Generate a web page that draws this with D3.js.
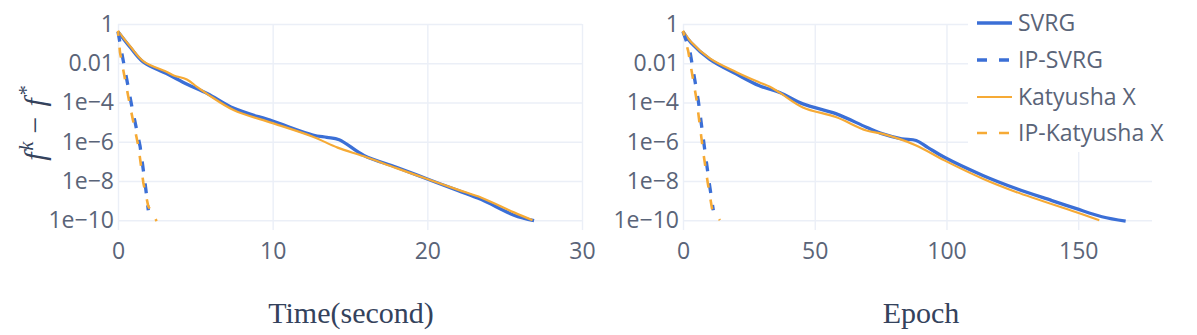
<!DOCTYPE html>
<html>
<head>
<meta charset="utf-8">
<script src="https://cdn.jsdelivr.net/npm/d3@7"></script>
<style>
  body { margin: 0; background: #fff; }
  svg { display: block; }
</style>
</head>
<body>
<svg id="chart" width="1197" height="335"></svg>
<script>
'use strict';

// ---- data ----
var seriesNames = ["SVRG", "IP-SVRG", "Katyusha X", "IP-Katyusha X"];

// left panel: time in seconds
var timeSvrgX = [0, 0.8, 1.65, 3.2, 4.5, 5.8, 7.5, 10, 12.6, 13.5, 14.3, 15.9, 18, 20, 22, 23.5, 25.6, 26.9];
var timeSvrgY = [0.40, 0.063, 0.0112, 0.0028, 8.3e-4, 2.8e-4, 5.0e-5, 1.12e-5, 2.2e-6, 1.66e-6, 1.26e-6, 2.0e-7, 5.0e-8, 1.26e-8, 3.2e-9, 1.12e-9, 1.8e-10, 9.5e-11];
var timeIpSvrgX = [0, 0.24, 0.89, 1.43, 1.75, 1.96];
var timeIpSvrgY = [0.40, 0.035, 6.5e-5, 5.8e-7, 7.9e-9, 3.2e-10];
var timeKatX = [0, 0.8, 1.65, 3.2, 3.6, 4.45, 5.1, 5.8, 7.5, 10, 12.6, 14.2, 15.9, 18, 20, 22, 23.5, 25.6, 26.8];
var timeKatY = [0.45, 0.071, 0.0126, 0.0035, 0.0024, 0.0015, 6.3e-4, 2.6e-4, 4.0e-5, 8.9e-6, 1.8e-6, 5.0e-7, 1.8e-7, 4.5e-8, 1.26e-8, 3.5e-9, 1.4e-9, 2.5e-10, 1.0e-10];
var timeIpKatX = [0, 0.13, 0.78, 1.32, 1.64, 1.96, 2.5];
var timeIpKatY = [0.45, 0.035, 6.5e-5, 5.8e-7, 7.9e-9, 5.0e-10, 8.9e-11];

// right panel: epochs
var epochSvrgX = [0, 3, 10.2, 20.3, 29, 36.7, 45.5, 58, 69.6, 75.8, 83, 88.5, 93, 99.2, 113.8, 126.4, 140, 149, 159, 168];
var epochSvrgY = [0.40, 0.112, 0.0158, 0.0028, 7.1e-4, 3.2e-4, 8.5e-5, 2.7e-5, 5.5e-6, 2.5e-6, 1.4e-6, 1.15e-6, 5.0e-7, 1.6e-7, 1.9e-8, 4.1e-9, 1.0e-9, 4.0e-10, 1.5e-10, 8.9e-11];
var epochIpSvrgX = [0, 2.6, 5.8, 8.3, 10, 11.5];
var epochIpSvrgY = [0.40, 0.043, 1.26e-4, 3.5e-7, 7.2e-9, 3.2e-10];
var epochKatX = [0, 3, 10.2, 20.3, 29, 33, 36.7, 45.5, 58, 69.6, 75.8, 88.5, 99.2, 113.8, 126.4, 149, 158];
var epochKatY = [0.45, 0.126, 0.0178, 0.0035, 1.05e-3, 6.3e-4, 3.2e-4, 5.6e-5, 1.8e-5, 3.7e-6, 2.5e-6, 6.5e-7, 1.12e-7, 1.3e-8, 2.75e-9, 2.6e-10, 1.0e-10];
var epochIpKatX = [0, 2, 5.2, 7.6, 9.4, 11, 14];
var epochIpKatY = [0.45, 0.04, 1.26e-4, 3.5e-7, 7.9e-9, 4.0e-10, 1.0e-10];

var timeTicks = [0, 10, 20, 30];
var epochTicks = [0, 50, 100, 150];
var yTickValues = [1, 1e-2, 1e-4, 1e-6, 1e-8, 1e-10];
var yTickLabels = ["1", "0.01", "1e\u22124", "1e\u22126", "1e\u22128", "1e\u221210"];

// ---- styling ----
var BLUE = "#3b6fd6", ORANGE = "#f6aa35";
var GRID = "#ebeff7", TEXT = "#5a6478", TITLE = "#34425c";
var styles = [
  {color: BLUE, width: 3.3, dash: null, offset: 0},
  {color: BLUE, width: 3.3, dash: "10,12", offset: 0},
  {color: ORANGE, width: 2.2, dash: null, offset: 0},
  {color: ORANGE, width: 2.6, dash: "10,12", offset: 5}
];

var svg = d3.select("#chart");
var plotTop = 24, plotBottom = 230;

var y = d3.scaleLog().domain([Math.pow(10, -10.5), 1]).range([plotBottom, plotTop]);

function zip(xs, ys) {
  return xs.map(function (d, i) { return {x: d, y: ys[i]}; });
}

function drawPanel(left, right, xDomain, xTicks, series, title, titleX) {
  var x = d3.scaleLinear().domain(xDomain).range([left, right]);
  var g = svg.append("g");

  // grid
  g.append("g")
    .attr("transform", "translate(0," + plotBottom + ")")
    .call(d3.axisBottom(x).tickValues(xTicks).tickSize(-(plotBottom - plotTop)).tickFormat(""))
    .call(function (a) {
      a.select(".domain").remove();
      a.selectAll("line").attr("stroke", GRID).attr("stroke-width", 1.4);
    });
  g.append("g")
    .attr("transform", "translate(" + left + ",0)")
    .call(d3.axisLeft(y).tickValues(yTickValues).tickSize(-(right - left)).tickFormat(""))
    .call(function (a) {
      a.select(".domain").remove();
      a.selectAll("line").attr("stroke", GRID).attr("stroke-width", 1.4);
    });

  // tick labels
  g.append("g")
    .attr("transform", "translate(0," + plotBottom + ")")
    .call(d3.axisBottom(x).tickValues(xTicks).tickSize(0).tickPadding(13))
    .call(function (a) {
      a.select(".domain").remove();
      a.selectAll("text").attr("fill", TEXT).style("font", "23px 'Open Sans'");
    });
  g.append("g")
    .attr("transform", "translate(" + left + ",0)")
    .call(d3.axisLeft(y).tickValues(yTickValues).tickSize(0).tickPadding(4)
      .tickFormat(function (d, i) { return yTickLabels[i]; }))
    .call(function (a) {
      a.select(".domain").remove();
      a.selectAll("text").attr("fill", TEXT).style("font", "23px 'Open Sans'");
    });

  // solid first, dashed on top
  var order = [0, 2, 1, 3];
  order.forEach(function (k) {
    var s = styles[k];
    g.append("path")
      .datum(series[k])
      .attr("fill", "none")
      .attr("stroke", s.color)
      .attr("stroke-width", s.width)
      .attr("stroke-dasharray", s.dash)
      .attr("stroke-dashoffset", s.offset)
      .attr("stroke-linejoin", "round")
      .attr("d", d3.line()
        .x(function (d) { return x(d.x); })
        .y(function (d) { return y(d.y); })
        .curve(k % 2 ? d3.curveLinear : d3.curveCatmullRom.alpha(0.5)));
  });

  g.append("text")
    .attr("x", titleX)
    .attr("y", 323)
    .attr("text-anchor", "middle")
    .attr("fill", TITLE)
    .style("font", "30px 'Liberation Serif'")
    .text(title);
}

drawPanel(118, 582, [0, 30], timeTicks, [
  zip(timeSvrgX, timeSvrgY),
  zip(timeIpSvrgX, timeIpSvrgY),
  zip(timeKatX, timeKatY),
  zip(timeIpKatX, timeIpKatY)
], "Time(second)", 351);

drawPanel(683, 1152, [0, 178], epochTicks, [
  zip(epochSvrgX, epochSvrgY),
  zip(epochIpSvrgX, epochIpSvrgY),
  zip(epochKatX, epochKatY),
  zip(epochIpKatX, epochIpKatY)
], "Epoch", 921);

// y axis title  f^k - f^*
var yt = svg.append("text")
  .attr("transform", "translate(45,123) rotate(-90)")
  .attr("text-anchor", "middle")
  .attr("fill", TITLE)
  .style("font", "italic 30px 'Liberation Serif'");
yt.append("tspan").text("f");
yt.append("tspan").attr("dx", 2).attr("dy", -12).style("font-size", "20px").text("k");
yt.append("tspan").attr("dx", 8).attr("dy", 12).style("font-style", "normal").text("\u2212");
yt.append("tspan").attr("dx", 10).text("f");
yt.append("tspan").attr("dx", 3).attr("dy", -12).style("font-size", "20px").style("font-style", "normal").text("*");

// legend
var legend = svg.append("g");
legend.append("rect")
  .attr("x", 968).attr("y", 0).attr("width", 229).attr("height", 152)
  .attr("fill", "#fff");
var rowY = [23, 60, 97, 133];
seriesNames.forEach(function (name, i) {
  var s = styles[i];
  legend.append("line")
    .attr("x1", 977).attr("x2", 1012)
    .attr("y1", rowY[i]).attr("y2", rowY[i])
    .attr("stroke", s.color)
    .attr("stroke-width", s.width)
    .attr("stroke-dasharray", s.dash);
  legend.append("text")
    .attr("x", 1018).attr("y", rowY[i]).attr("dy", "0.35em")
    .attr("fill", TEXT)
    .style("font", "23px 'Open Sans'")
    .text(name);
});
</script>
</body>
</html>
